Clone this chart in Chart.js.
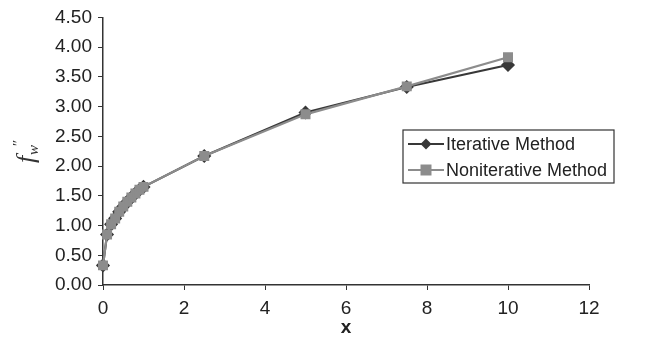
<!DOCTYPE html>
<html>
<head>
<meta charset="utf-8">
<script src="https://cdn.jsdelivr.net/npm/chart.js@4"></script>
<style>
  html, body { margin: 0; padding: 0; background: #fff; }
  #wrap { width: 646px; height: 343px; }
</style>
</head>
<body>
<div id="wrap"><canvas id="chart"></canvas></div>
<script>
const xValues = [0, 0.1, 0.2, 0.3, 0.4, 0.5, 0.6, 0.7, 0.8, 0.9, 1.0, 2.5, 5, 7.5, 10];
const iterative = [0.33, 0.85, 1.02, 1.12, 1.23, 1.32, 1.40, 1.47, 1.54, 1.60, 1.65, 2.17, 2.90, 3.33, 3.70];
const noniterative = [0.33, 0.85, 1.02, 1.12, 1.23, 1.32, 1.40, 1.47, 1.54, 1.60, 1.65, 2.17, 2.87, 3.34, 3.83];
const seriesLabels = ["Iterative Method", "Noniterative Method"];
const xTicks = [0, 2, 4, 6, 8, 10, 12];
const yTicks = [0, 0.5, 1, 1.5, 2, 2.5, 3, 3.5, 4, 4.5];

const ctx = document.getElementById("chart");

Chart.defaults.color = "#222";
Chart.defaults.font.family = "Liberation Sans, Arial, sans-serif";
Chart.defaults.font.size = 19;

function toPoints(ys) {
  return xValues.map((x, i) => ({ x: x, y: ys[i] }));
}

// legend box drawn inside the plot, like the original
const boxLegend = {
  id: "boxLegend",
  afterDraw(chart) {
    const c = chart.ctx;
    const left = 403, top = 130, w = 211, h = 53;
    c.save();
    c.fillStyle = "#fff";
    c.fillRect(left, top, w, h);
    c.strokeStyle = "#333";
    c.lineWidth = 1.2;
    c.strokeRect(left, top, w, h);
    c.font = "18px Liberation Sans, Arial, sans-serif";
    c.textBaseline = "middle";
    chart.data.datasets.forEach((ds, i) => {
      const y = top + 14 + i * 26;
      c.strokeStyle = ds.borderColor;
      c.lineWidth = 2.2;
      c.beginPath();
      c.moveTo(left + 5, y);
      c.lineTo(left + 41, y);
      c.stroke();
      c.fillStyle = ds.pointBackgroundColor;
      c.beginPath();
      if (ds.pointStyle === "rectRot") {
        c.moveTo(left + 23, y - 5.5);
        c.lineTo(left + 28.5, y);
        c.lineTo(left + 23, y + 5.5);
        c.lineTo(left + 17.5, y);
      } else {
        c.rect(left + 17.5, y - 5.5, 11, 11);
      }
      c.fill();
      c.fillStyle = "#222";
      c.fillText(ds.label, left + 43, y + 1);
    });
    c.restore();
  }
};

// y axis title f''_w
const yTitle = {
  id: "yTitle",
  afterDraw(chart) {
    const c = chart.ctx;
    c.save();
    c.translate(34, 163);
    c.rotate(-Math.PI / 2);
    c.fillStyle = "#333";
    c.textBaseline = "alphabetic";
    c.font = "italic 26px Liberation Serif, serif";
    c.fillText("f", 0, 0);
    c.font = "italic 15px Liberation Serif, serif";
    c.fillText("\u2033", 16, -11);
    c.fillText("w", 8, 4);
    c.restore();
  }
};

new Chart(ctx, {
  type: "scatter",
  data: {
    datasets: [
      {
        label: seriesLabels[0],
        data: toPoints(iterative),
        showLine: true,
        borderColor: "#383838",
        backgroundColor: "#383838",
        pointBackgroundColor: "#383838",
        pointBorderColor: "#383838",
        pointStyle: "rectRot",
        pointRadius: 5.5,
        borderWidth: 2.2,
        order: 1,
        clip: false,
      },
      {
        label: seriesLabels[1],
        data: toPoints(noniterative),
        showLine: true,
        borderColor: "#8c8c8c",
        backgroundColor: "#8c8c8c",
        pointBackgroundColor: "#8c8c8c",
        pointBorderColor: "#8c8c8c",
        pointStyle: "rect",
        pointRadius: 5.5,
        borderWidth: 2.2,
        order: 0,
        clip: false,
      },
    ],
  },
  options: {
    responsive: true,
    maintainAspectRatio: false,
    animation: false,
    layout: {
      padding: { top: 17, right: 57, left: 0, bottom: 4 },
    },
    plugins: {
      legend: { display: false },
      tooltip: { enabled: false },
    },
    scales: {
      x: {
        type: "linear",
        min: 0,
        max: 12,
        afterFit(scale) { scale.height = 54; },
        afterBuildTicks(scale) { scale.ticks = xTicks.map(v => ({ value: v })); },
        grid: { drawOnChartArea: false, drawTicks: true, tickLength: 5, color: "#333" },
        border: { color: "#333", width: 1.5 },
        ticks: { padding: 7, color: "#222" },
        title: {
          display: true,
          text: "x",
          font: { size: 19, weight: "bold" },
          color: "#222",
          padding: { top: 0, bottom: 0 },
        },
      },
      y: {
        min: 0,
        max: 4.5,
        afterFit(scale) { scale.width = 103; },
        afterBuildTicks(scale) { scale.ticks = yTicks.map(v => ({ value: v })); },
        grid: { drawOnChartArea: false, drawTicks: true, tickLength: 5, color: "#333" },
        border: { color: "#333", width: 1.5 },
        ticks: {
          padding: 6,
          color: "#222",
          callback: v => v.toFixed(2),
        },
      },
    },
  },
  plugins: [boxLegend, yTitle],
});
</script>
</body>
</html>
